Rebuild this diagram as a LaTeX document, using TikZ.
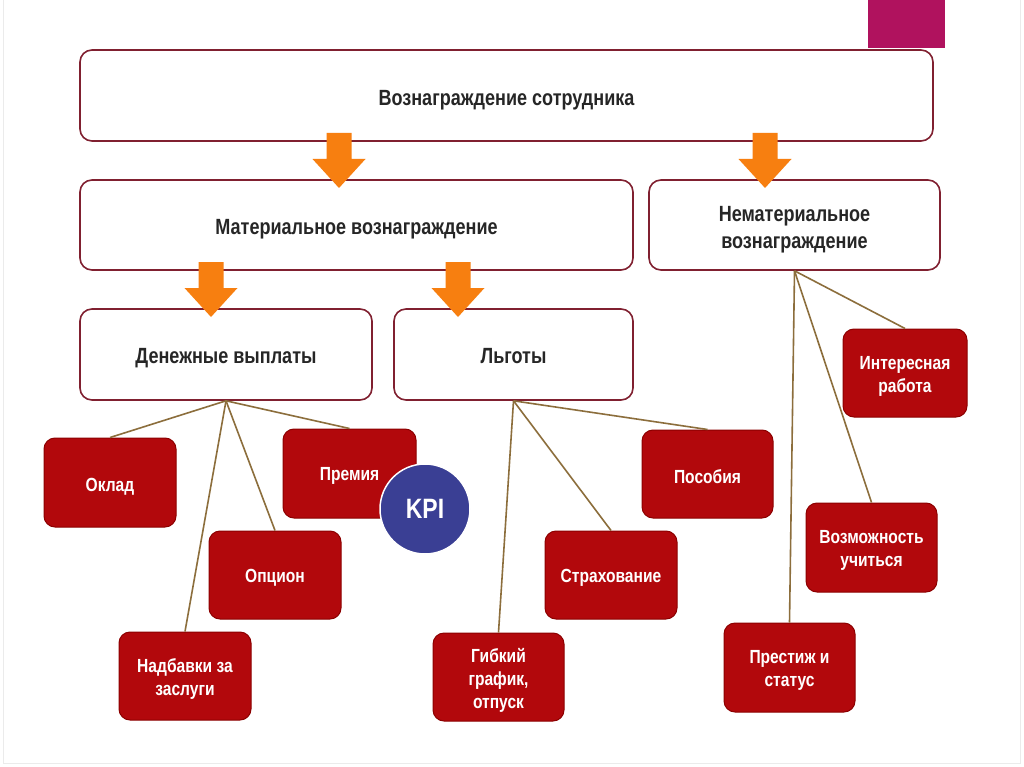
\documentclass[tikz,border=0pt]{standalone}
\usepackage{fontspec}
\setmainfont{Liberation Sans}[FakeStretch=0.82]
\definecolor{boxborder}{RGB}{128,32,48}
\definecolor{redfill}{RGB}{178,8,12}
\definecolor{redborder}{RGB}{140,0,0}
\definecolor{orangeC}{RGB}{247,127,16}
\definecolor{linkC}{RGB}{140,110,60}
\definecolor{kpiC}{RGB}{58,63,148}
\definecolor{magentaC}{RGB}{176,18,94}
\definecolor{textC}{RGB}{38,38,38}
\tikzset{
  whitebox/.style={draw=boxborder, line width=1.6pt, fill=white, rounded corners=12pt, inner sep=0pt},
  wtext/.style={font=\fontsize{22}{27}\selectfont\bfseries, text=textC, align=center, inner sep=0pt},
  redbox/.style={draw=redborder, line width=1pt, fill=redfill, rounded corners=11pt, inner sep=0pt},
  rtext/.style={font=\fontsize{19}{23}\selectfont\bfseries, text=white, align=center, inner sep=0pt},
  link/.style={draw=linkC, line width=1.6pt},
  orarrow/.pic={\fill[orangeC] (-12.5,0) -- (12.5,0) -- (12.5,26) -- (26.5,26) -- (0,55) -- (-26.5,26) -- (-12.5,26) -- cycle;}
}
\begin{document}
\begin{tikzpicture}[x=1pt,y=-1pt]
\useasboundingbox (0,0) rectangle (1024,767);
\fill[white] (0,0) rectangle (1024,767);
\draw[black!8, line width=1pt] (3,-2) -- (3,763) -- (1020,763) -- (1020,-2);
\fill[magentaC] (868,0) rectangle (945,48);

% white boxes
\node[whitebox, minimum width=853, minimum height=91] (top) at (506.5,95.5) {};
\node[whitebox, minimum width=553, minimum height=90] (mat) at (356.5,225) {};
\node[whitebox, minimum width=291, minimum height=90] (nonmat) at (794.5,225) {};
\node[whitebox, minimum width=292, minimum height=91] (den) at (226,354.5) {};
\node[whitebox, minimum width=239, minimum height=91] (lg) at (513.5,354.5) {};
\node[wtext] (top-t) at ([yshift=-5pt]top.center) {Вознаграждение сотрудника};
\node[wtext] (mat-t) at ([yshift=-4pt]mat.center) {Материальное вознаграждение};
\node[wtext] (nonmat-t) at ([yshift=-5pt]nonmat.center) {Нематериальное\\вознаграждение};
\node[wtext] (den-t) at ([yshift=-4pt]den.center) {Денежные выплаты};
\node[wtext] (lg-t) at ([yshift=-2pt]lg.center) {Льготы};

% red boxes
\node[redbox, minimum width=132, minimum height=89] (okl) at (110,482.5) {};
\node[redbox, minimum width=133, minimum height=89] (prem) at (349.5,473.5) {};
\node[redbox, minimum width=132, minimum height=88] (opc) at (275,575) {};
\node[redbox, minimum width=132, minimum height=88] (nadb) at (185,676) {};
\node[redbox, minimum width=131, minimum height=88] (gib) at (498.5,677) {};
\node[redbox, minimum width=132, minimum height=88] (str) at (611,575) {};
\node[redbox, minimum width=131, minimum height=88] (pos) at (707.5,474) {};
\node[redbox, minimum width=124, minimum height=88] (int) at (905,373) {};
\node[redbox, minimum width=131, minimum height=89] (voz) at (871.5,547.5) {};
\node[redbox, minimum width=131, minimum height=89] (pres) at (789.5,667.5) {};
\node[rtext] (okl-t) at ([yshift=-4pt]okl.center) {Оклад};
\node[rtext] (prem-t) at ([yshift=-2pt]prem.center) {Премия};
\node[rtext] (opc-t) at ([yshift=-3pt]opc.center) {Опцион};
\node[rtext] (nadb-t) at ([yshift=-3pt]nadb.center) {Надбавки за\\заслуги};
\node[rtext] (gib-t) at ([yshift=-3pt]gib.center) {Гибкий\\график,\\отпуск};
\node[rtext] (str-t) at ([yshift=-3pt]str.center) {Страхование};
\node[rtext] (pos-t) at ([yshift=-3pt]pos.center) {Пособия};
\node[rtext] (int-t) at ([yshift=-3pt]int.center) {Интересная\\работа};
\node[rtext] (voz-t) at ([yshift=-3pt]voz.center) {Возможность\\учиться};
\node[rtext] (pres-t) at ([yshift=-3pt]pres.center) {Престиж и\\статус};

% KPI
\node[circle, fill=kpiC, draw=white, line width=1.5pt, minimum size=90, inner sep=0pt,
  text=white, font=\fontsize{28}{32}\selectfont\bfseries] (kpi) at (425,509) {KPI};

% connectors
\draw[link] (den.south) -- (okl.north);
\draw[link] (den.south) -- (prem.north);
\draw[link] (den.south) -- (opc.north);
\draw[link] (den.south) -- (nadb.north);
\draw[link] (lg.south) -- (gib.north);
\draw[link] (lg.south) -- (str.north);
\draw[link] (lg.south) -- (pos.north);
\draw[link] (nonmat.south) -- (int.north);
\draw[link] (nonmat.south) -- (voz.north);
\draw[link] (nonmat.south) -- (pres.north);

% orange arrows
\pic at (339,133) {orarrow};
\pic at (765,133) {orarrow};
\pic at (211,262) {orarrow};
\pic at (458,262) {orarrow};
\end{tikzpicture}
\end{document}
